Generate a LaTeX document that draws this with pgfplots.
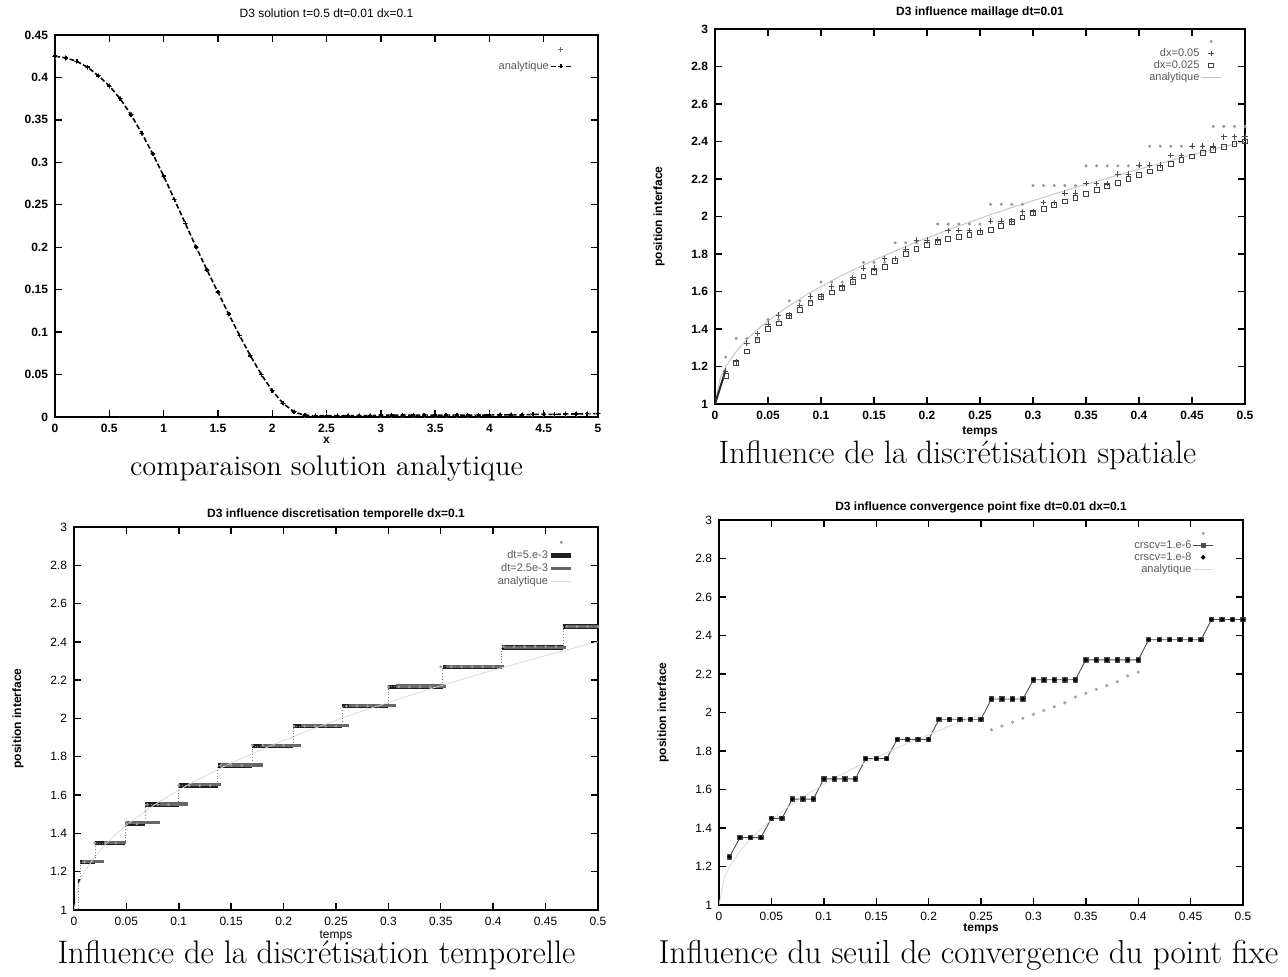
\documentclass[border=0pt]{standalone}
\usepackage{fontspec}
\usepackage{pgfplots}
\pgfplotsset{compat=1.18}
\newfontfamily\hv{Liberation Sans}
\newcommand{\tfont}{\hv\fontsize{6}{7}\selectfont}
\newcommand{\tbfont}{\hv\bfseries\fontsize{6}{7}\selectfont}
\pgfplotsset{
 gp/.style={
  scale only axis,
  axis line style={line width=0.9pt},
  every tick/.style={line width=0.7pt, black},
  major tick length=3.5pt,
  tick align=inside,
  /pgf/number format/assume math mode=true,
  /pgf/number format/fixed,
  tick label style={font=\tbfont},
  title style={font=\tfont, inner sep=1pt},
  xlabel style={font=\tbfont, at={(axis description cs:0.5,0)}, anchor=north, inner sep=1pt},
  ylabel style={font=\tbfont, at={(axis description cs:0,0.5)}, anchor=center, inner sep=1pt, yshift=28pt},
  legend style={draw=none, fill=none, font=\hv\fontsize{5.5}{6}\selectfont, text=black!65,
     at={(1,1)}, anchor=north east, nodes={inner sep=0.6pt, text height=3.8pt, text depth=1pt}},
  legend cell align=right, legend plot pos=right,
  legend image code/.code={\draw[mark repeat=2,mark phase=2,##1] plot coordinates {(0pt,0pt) (5pt,0pt) (10pt,0pt)};},
 },
 ytpos/.style={ymin=1, ymax=3, ytick={1,1.2,1.4,1.6,1.8,2,2.2,2.4,2.6,2.8,3},
   xmin=0, xmax=0.5, xtick={0,0.05,0.1,0.15,0.2,0.25,0.3,0.35,0.4,0.45,0.5}},
}
\begin{document}
\begin{tikzpicture}
\useasboundingbox (0,0) rectangle (644pt,488.5pt);

% ---------------- Panel 1 ----------------
\begin{axis}[gp, at={(27.5pt,280pt)}, anchor=south west, width=271.5pt, height=191pt,
  xmin=0, xmax=5, ymin=0, ymax=0.45,
  xtick={0,0.5,1,1.5,2,2.5,3,3.5,4,4.5,5},
  ytick={0,0.05,0.1,0.15,0.2,0.25,0.3,0.35,0.4,0.45},
  title={D3 solution t=0.5 dt=0.01 dx=0.1}, title style={yshift=1.5pt},
  xlabel={x}, xlabel style={yshift=-9pt},
  legend style={xshift=-10pt, yshift=-2pt, row sep=2.5pt}]
\addplot[only marks, mark=+, mark size=1.3pt, black!55] coordinates {
 (0.0,0.425)(0.1,0.423)(0.2,0.419)(0.3,0.412)(0.4,0.402)(0.5,0.390)(0.6,0.375)(0.7,0.356)(0.8,0.334)(0.9,0.310)
 (1.0,0.284)(1.1,0.256)(1.2,0.228)(1.3,0.200)(1.4,0.173)(1.5,0.147)(1.6,0.121)(1.7,0.096)(1.8,0.072)(1.9,0.050)
 (2.0,0.031)(2.1,0.016)(2.2,0.006)(2.3,0.002)(2.4,0.0015)(2.5,0.0015)(2.6,0.0015)(2.7,0.0015)(2.8,0.0015)(2.9,0.0015)
 (3.0,0.002)(3.1,0.002)(3.2,0.002)(3.3,0.002)(3.4,0.002)(3.5,0.002)(3.6,0.002)(3.7,0.002)(3.8,0.002)(3.9,0.002)
 (4.0,0.0025)(4.1,0.0025)(4.2,0.0025)(4.3,0.0025)(4.4,0.003)(4.5,0.003)(4.6,0.003)(4.7,0.0035)(4.8,0.0035)(4.9,0.004)(5.0,0.004)};
\addlegendentry{}
\addplot[black, line width=0.8pt, dash pattern=on 2.5pt off 1.2pt, mark=+, mark size=1pt, mark options={solid}] coordinates {
 (0.0,0.425)(0.1,0.423)(0.2,0.419)(0.3,0.412)(0.4,0.402)(0.5,0.390)(0.6,0.375)(0.7,0.356)(0.8,0.334)(0.9,0.310)
 (1.0,0.284)(1.1,0.256)(1.2,0.228)(1.3,0.200)(1.4,0.173)(1.5,0.147)(1.6,0.121)(1.7,0.096)(1.8,0.072)(1.9,0.050)
 (2.0,0.031)(2.1,0.016)(2.2,0.006)(2.3,0.002)(2.4,0.0015)(2.5,0.0015)(2.6,0.0015)(2.7,0.0015)(2.8,0.0015)(2.9,0.0015)
 (3.0,0.002)(3.1,0.002)(3.2,0.002)(3.3,0.002)(3.4,0.002)(3.5,0.002)(3.6,0.002)(3.7,0.002)(3.8,0.002)(3.9,0.002)
 (4.0,0.0025)(4.1,0.0025)(4.2,0.0025)(4.3,0.0025)(4.4,0.003)(4.5,0.003)(4.6,0.003)(4.7,0.0035)(4.8,0.0035)(4.9,0.004)(5.0,0.004)};
\addlegendentry{analytique}
\end{axis}

% ---------------- Panel 2 ----------------
\begin{axis}[gp, ytpos, at={(357.5pt,286.5pt)}, anchor=south west, width=265pt, height=187.5pt,
  title={D3 influence maillage dt=0.01}, title style={yshift=-1.5pt, font=\hv\bfseries\fontsize{6}{7}\selectfont},
  xlabel={temps}, xlabel style={yshift=-10pt},
  ylabel={position interface},
  legend style={xshift=-8.5pt, yshift=-1pt, row sep=0pt}]
\addplot[only marks, mark=*, mark size=0.55pt, black!40] coordinates {
 (0.01,1.25)(0.02,1.35)(0.03,1.35)(0.04,1.35)(0.05,1.45)(0.06,1.45)(0.07,1.55)(0.08,1.55)(0.09,1.55)(0.10,1.65)
 (0.11,1.65)(0.12,1.65)(0.13,1.65)(0.14,1.755)(0.15,1.755)(0.16,1.755)(0.17,1.86)(0.18,1.86)(0.19,1.86)(0.20,1.86)
 (0.21,1.96)(0.22,1.96)(0.23,1.96)(0.24,1.96)(0.25,1.96)(0.26,2.065)(0.27,2.065)(0.28,2.065)(0.29,2.065)(0.30,2.165)
 (0.31,2.165)(0.32,2.165)(0.33,2.165)(0.34,2.165)(0.35,2.27)(0.36,2.27)(0.37,2.27)(0.38,2.27)(0.39,2.27)(0.40,2.27)
 (0.41,2.375)(0.42,2.375)(0.43,2.375)(0.44,2.375)(0.45,2.375)(0.46,2.375)(0.47,2.48)(0.48,2.48)(0.49,2.48)(0.50,2.48)};
\addlegendentry{}
\addplot[only marks, mark=+, mark size=1.4pt, black!70] coordinates {
 (0.01,1.175)(0.02,1.225)(0.03,1.325)(0.04,1.375)(0.05,1.425)(0.06,1.475)(0.07,1.475)(0.08,1.525)(0.09,1.575)(0.10,1.575)
 (0.11,1.625)(0.12,1.625)(0.13,1.675)(0.14,1.725)(0.15,1.725)(0.16,1.775)(0.17,1.775)(0.18,1.825)(0.19,1.875)(0.20,1.875)
 (0.21,1.875)(0.22,1.925)(0.23,1.925)(0.24,1.925)(0.25,1.925)(0.26,1.975)(0.27,1.975)(0.28,1.975)(0.29,2.025)(0.30,2.025)
 (0.31,2.075)(0.32,2.075)(0.33,2.125)(0.34,2.125)(0.35,2.175)(0.36,2.175)(0.37,2.175)(0.38,2.225)(0.39,2.225)(0.40,2.275)
 (0.41,2.275)(0.42,2.275)(0.43,2.325)(0.44,2.325)(0.45,2.375)(0.46,2.375)(0.47,2.375)(0.48,2.425)(0.49,2.425)(0.50,2.425)};
\addlegendentry{dx=0.05}
\addplot[only marks, mark=square, mark size=1.2pt, black!75] coordinates {
 (0.01,1.15)(0.02,1.22)(0.03,1.28)(0.04,1.34)(0.05,1.40)(0.06,1.43)(0.07,1.47)(0.08,1.50)(0.09,1.54)(0.10,1.57)
 (0.11,1.595)(0.12,1.62)(0.13,1.65)(0.14,1.68)(0.15,1.705)(0.16,1.73)(0.17,1.765)(0.18,1.80)(0.19,1.825)(0.20,1.85)
 (0.21,1.865)(0.22,1.88)(0.23,1.89)(0.24,1.90)(0.25,1.915)(0.26,1.93)(0.27,1.95)(0.28,1.97)(0.29,1.995)(0.30,2.02)
 (0.31,2.04)(0.32,2.06)(0.33,2.08)(0.34,2.10)(0.35,2.12)(0.36,2.14)(0.37,2.16)(0.38,2.18)(0.39,2.20)(0.40,2.22)
 (0.41,2.24)(0.42,2.26)(0.43,2.28)(0.44,2.30)(0.45,2.32)(0.46,2.34)(0.47,2.355)(0.48,2.37)(0.49,2.385)(0.50,2.40)};
\addlegendentry{dx=0.025}
\addplot[black!22, line width=0.5pt] coordinates {
 (0,1)(0.005,1.14)(0.01,1.198)(0.02,1.280)(0.03,1.343)(0.04,1.396)(0.05,1.443)(0.06,1.485)(0.07,1.524)(0.08,1.560)(0.09,1.594)
 (0.10,1.626)(0.11,1.657)(0.12,1.686)(0.13,1.714)(0.14,1.741)(0.15,1.767)(0.16,1.792)(0.17,1.816)(0.18,1.840)(0.19,1.863)
 (0.20,1.885)(0.21,1.907)(0.22,1.929)(0.23,1.950)(0.24,1.970)(0.25,1.990)(0.26,2.010)(0.27,2.029)(0.28,2.048)(0.29,2.066)
 (0.30,2.084)(0.31,2.102)(0.32,2.120)(0.33,2.137)(0.34,2.155)(0.35,2.171)(0.36,2.188)(0.37,2.204)(0.38,2.220)(0.39,2.237)
 (0.40,2.252)(0.41,2.268)(0.42,2.283)(0.43,2.298)(0.44,2.313)(0.45,2.328)(0.46,2.343)(0.47,2.357)(0.48,2.372)(0.49,2.386)(0.50,2.400)};
\addlegendentry{analytique}
\addplot[black!85, line width=1pt, forget plot] coordinates {(0,1)(0.01,1.18)};
\end{axis}

% ---------------- Panel 3 ----------------
\begin{axis}[gp, ytpos, at={(37pt,33.5pt)}, anchor=south west, width=262pt, height=191.5pt,
  tick label style={font=\tfont},
  title={D3 influence discretisation temporelle dx=0.1}, title style={yshift=-3.5pt, font=\hv\bfseries\fontsize{6}{7}\selectfont},
  xlabel={temps}, xlabel style={yshift=-9pt, font=\tfont},
  ylabel={position interface},
  legend style={xshift=-9pt, yshift=-2.5pt, row sep=0.5pt}]
\addplot[only marks, mark=*, mark size=0.5pt, black!40] coordinates {
 (0.01,1.25)(0.02,1.35)(0.03,1.35)(0.04,1.35)(0.05,1.45)(0.06,1.45)(0.07,1.55)(0.08,1.55)(0.09,1.55)(0.10,1.65)
 (0.11,1.65)(0.12,1.65)(0.13,1.65)(0.14,1.755)(0.15,1.755)(0.16,1.755)(0.17,1.86)(0.18,1.86)(0.19,1.86)(0.20,1.86)
 (0.21,1.96)(0.22,1.96)(0.23,1.96)(0.24,1.96)(0.25,1.96)(0.26,2.065)(0.27,2.065)(0.28,2.065)(0.29,2.065)(0.30,2.165)
 (0.31,2.165)(0.32,2.165)(0.33,2.165)(0.34,2.165)(0.35,2.27)(0.36,2.27)(0.37,2.27)(0.38,2.27)(0.39,2.27)(0.40,2.27)
 (0.41,2.375)(0.42,2.375)(0.43,2.375)(0.44,2.375)(0.45,2.375)(0.46,2.375)(0.47,2.48)(0.48,2.48)(0.49,2.48)(0.50,2.48)};
\addlegendentry{}
\addplot[jump mark left, black!88, line width=2.2pt] coordinates {
 (0.004,1.15)(0.006,1.25)(0.02,1.35)(0.049,1.45)(0.068,1.55)(0.10,1.65)(0.137,1.755)(0.17,1.855)(0.209,1.96)
 (0.256,2.065)(0.30,2.165)(0.352,2.27)(0.408,2.37)(0.467,2.48)(0.5,2.48)};
\addlegendentry{dt=5.e-3}
\addplot[jump mark left, black!60, line width=1.6pt] coordinates {
 (0.008,1.255)(0.029,1.352)(0.05,1.457)(0.082,1.553)(0.109,1.654)(0.14,1.757)(0.18,1.858)(0.217,1.963)
 (0.262,2.068)(0.307,2.17)(0.355,2.27)(0.41,2.372)(0.469,2.482)(0.5,2.482)};
\addlegendentry{dt=2.5e-3}
\addplot[black!15, line width=0.4pt] coordinates {
 (0,1)(0.005,1.14)(0.01,1.198)(0.02,1.280)(0.03,1.343)(0.04,1.396)(0.05,1.443)(0.06,1.485)(0.07,1.524)(0.08,1.560)(0.09,1.594)
 (0.10,1.626)(0.11,1.657)(0.12,1.686)(0.13,1.714)(0.14,1.741)(0.15,1.767)(0.16,1.792)(0.17,1.816)(0.18,1.840)(0.19,1.863)
 (0.20,1.885)(0.21,1.907)(0.22,1.929)(0.23,1.950)(0.24,1.970)(0.25,1.990)(0.26,2.010)(0.27,2.029)(0.28,2.048)(0.29,2.066)
 (0.30,2.084)(0.31,2.102)(0.32,2.120)(0.33,2.137)(0.34,2.155)(0.35,2.171)(0.36,2.188)(0.37,2.204)(0.38,2.220)(0.39,2.237)
 (0.40,2.252)(0.41,2.268)(0.42,2.283)(0.43,2.298)(0.44,2.313)(0.45,2.328)(0.46,2.343)(0.47,2.357)(0.48,2.372)(0.49,2.386)(0.50,2.400)};
\addlegendentry{analytique}
\addplot[const plot mark left, black!50, line width=0.4pt, densely dotted, forget plot] coordinates {
 (0,1)(0.004,1.15)(0.006,1.25)(0.02,1.35)(0.049,1.45)(0.068,1.55)(0.10,1.65)(0.137,1.755)(0.17,1.855)(0.209,1.96)
 (0.256,2.065)(0.30,2.165)(0.352,2.27)(0.408,2.37)(0.467,2.48)(0.5,2.48)};
\end{axis}

% ---------------- Panel 4 ----------------
\begin{axis}[gp, ytpos, at={(359.5pt,36pt)}, anchor=south west, width=262pt, height=192.5pt,
  tick label style={font=\tfont},
  title={D3 influence convergence point fixe dt=0.01 dx=0.1}, title style={yshift=-3.5pt, font=\hv\bfseries\fontsize{6}{7}\selectfont},
  xlabel={temps}, xlabel style={yshift=-8pt},
  ylabel={position interface},
  legend style={xshift=-11.5pt, yshift=-1.5pt, row sep=0pt}]
\addplot[only marks, mark=*, mark size=0.6pt, black!35] coordinates {
 (0.26,1.91)(0.27,1.93)(0.28,1.95)(0.29,1.97)(0.30,1.99)(0.31,2.01)(0.32,2.03)(0.33,2.05)(0.34,2.08)(0.35,2.10)
 (0.36,2.12)(0.37,2.14)(0.38,2.16)(0.39,2.19)(0.40,2.21)};
\addlegendentry{}
\addplot[black!70, line width=0.45pt, mark=square*, mark size=1.1pt] coordinates {
 (0.01,1.25)(0.02,1.35)(0.03,1.35)(0.04,1.35)(0.05,1.45)(0.06,1.45)(0.07,1.55)(0.08,1.55)(0.09,1.55)(0.10,1.655)
 (0.11,1.655)(0.12,1.655)(0.13,1.655)(0.14,1.76)(0.15,1.76)(0.16,1.76)(0.17,1.86)(0.18,1.86)(0.19,1.86)(0.20,1.86)
 (0.21,1.965)(0.22,1.965)(0.23,1.965)(0.24,1.965)(0.25,1.965)(0.26,2.07)(0.27,2.07)(0.28,2.07)(0.29,2.07)(0.30,2.17)
 (0.31,2.17)(0.32,2.17)(0.33,2.17)(0.34,2.17)(0.35,2.273)(0.36,2.273)(0.37,2.273)(0.38,2.273)(0.39,2.273)(0.40,2.273)
 (0.41,2.378)(0.42,2.378)(0.43,2.378)(0.44,2.378)(0.45,2.378)(0.46,2.378)(0.47,2.483)(0.48,2.483)(0.49,2.483)(0.50,2.483)};
\addlegendentry{crscv=1.e-6}
\addplot[only marks, mark=*, mark size=0.9pt, black] coordinates {
 (0.01,1.25)(0.02,1.35)(0.03,1.35)(0.04,1.35)(0.05,1.45)(0.06,1.45)(0.07,1.55)(0.08,1.55)(0.09,1.55)(0.10,1.655)
 (0.11,1.655)(0.12,1.655)(0.13,1.655)(0.14,1.76)(0.15,1.76)(0.16,1.76)(0.17,1.86)(0.18,1.86)(0.19,1.86)(0.20,1.86)
 (0.21,1.965)(0.22,1.965)(0.23,1.965)(0.24,1.965)(0.25,1.965)(0.26,2.07)(0.27,2.07)(0.28,2.07)(0.29,2.07)(0.30,2.17)
 (0.31,2.17)(0.32,2.17)(0.33,2.17)(0.34,2.17)(0.35,2.273)(0.36,2.273)(0.37,2.273)(0.38,2.273)(0.39,2.273)(0.40,2.273)
 (0.41,2.378)(0.42,2.378)(0.43,2.378)(0.44,2.378)(0.45,2.378)(0.46,2.378)(0.47,2.483)(0.48,2.483)(0.49,2.483)(0.50,2.483)};
\addlegendentry{crscv=1.e-8}
\addplot[black!15, line width=0.4pt] coordinates {
 (0,1)(0.005,1.14)(0.01,1.198)(0.02,1.280)(0.03,1.343)(0.04,1.396)(0.05,1.443)(0.06,1.485)(0.07,1.524)(0.08,1.560)(0.09,1.594)
 (0.10,1.626)(0.11,1.657)(0.12,1.686)(0.13,1.714)(0.14,1.741)(0.15,1.767)(0.16,1.792)(0.17,1.816)(0.18,1.840)(0.19,1.863)
 (0.20,1.885)(0.21,1.907)(0.22,1.929)(0.23,1.950)(0.24,1.970)(0.25,1.990)};
\addlegendentry{analytique}
\end{axis}

% ---------------- Captions ----------------
\node[font=\fontsize{14.2}{17}\selectfont, anchor=base, inner sep=0pt] at (163.25pt,250.5pt) {comparaison solution analytique};
\node[font=\fontsize{16.2}{19}\selectfont, anchor=base, inner sep=0pt] at (478.75pt,256.5pt) {Influence de la discrétisation spatiale};
\node[font=\fontsize{16.3}{19}\selectfont, anchor=base, inner sep=0pt] at (158.25pt,6.5pt) {Influence de la discrétisation temporelle};
\node[font=\fontsize{16.6}{19}\selectfont, anchor=base, inner sep=0pt] at (484.25pt,6.5pt) {Influence du seuil de convergence du point fixe};
\end{tikzpicture}
\end{document}
